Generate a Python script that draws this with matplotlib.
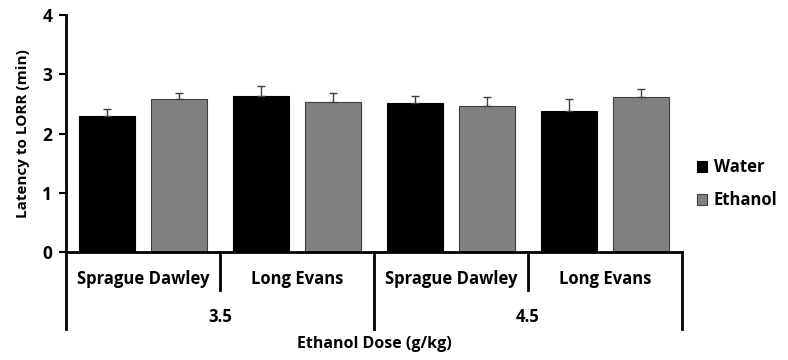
import numpy as np
import matplotlib.pyplot as plt

plt.rcParams['font.family'] = ['Open Sans', 'DejaVu Sans']

strains = ["Sprague Dawley", "Long Evans", "Sprague Dawley", "Long Evans"]
doses = ["3.5", "4.5"]
water = [2.29, 2.64, 2.51, 2.39]
water_err = [0.13, 0.17, 0.13, 0.19]
ethanol = [2.58, 2.54, 2.46, 2.61]
ethanol_err = [0.11, 0.15, 0.15, 0.14]

fig = plt.figure(figsize=(7.88, 3.6), dpi=100)
ax = fig.add_axes([0.0838, 0.2992, 0.7817, 0.6591])

x = np.arange(len(strains))
off = 0.232
w = 0.364
ax.bar(x - off, water, w, color='black', edgecolor='black', linewidth=0.8, label='Water',
       yerr=[np.zeros(4), water_err], error_kw=dict(ecolor='#404040', elinewidth=1.0, capsize=3, capthick=1.0))
ax.bar(x + off, ethanol, w, color='#808080', edgecolor='#404040', linewidth=0.8, label='Ethanol',
       yerr=[np.zeros(4), ethanol_err], error_kw=dict(ecolor='#404040', elinewidth=1.0, capsize=3, capthick=1.0))

ax.set_xlim(-0.5, 3.5)
ax.set_ylim(0, 4)
ax.set_yticks([0, 1, 2, 3, 4])
ax.tick_params(axis='y', length=5, width=1.5, labelsize=12.5, direction='out', pad=5)
for lb in ax.get_yticklabels():
    lb.set_fontweight('bold')
ax.set_xticks([])
ax.spines['top'].set_visible(False)
ax.spines['right'].set_visible(False)
ax.spines['left'].set_linewidth(2)
ax.spines['bottom'].set_linewidth(2)
ax.set_ylabel('Latency to LORR (min)', fontsize=11, fontweight='bold', labelpad=9)

tr = ax.get_xaxis_transform()
for i in range(5):
    xp = i - 0.5
    ybot = -0.323 if i % 2 == 0 else -0.159
    ax.plot([xp, xp], [0, ybot], color='black', lw=2, transform=tr, clip_on=False)
for i, s in enumerate(strains):
    ax.text(i, -0.112, s, transform=tr, ha='center', va='center', fontsize=12, fontweight='bold')
for j, d in enumerate(doses):
    ax.text(2 * j + 0.5, -0.272, d, transform=tr, ha='center', va='center', fontsize=12, fontweight='bold')
ax.text(1.5, -0.386, 'Ethanol Dose (g/kg)', transform=tr, ha='center', va='center', fontsize=11.5, fontweight='bold')

leg = ax.legend(loc='center left', bbox_to_anchor=(1.0, 0.288), frameon=False, fontsize=12,
                handlelength=0.6, handleheight=0.6, handletextpad=0.4, labelspacing=0.9)
for t in leg.get_texts():
    t.set_fontweight('bold')

fig.savefig('out.png', dpi=100)
